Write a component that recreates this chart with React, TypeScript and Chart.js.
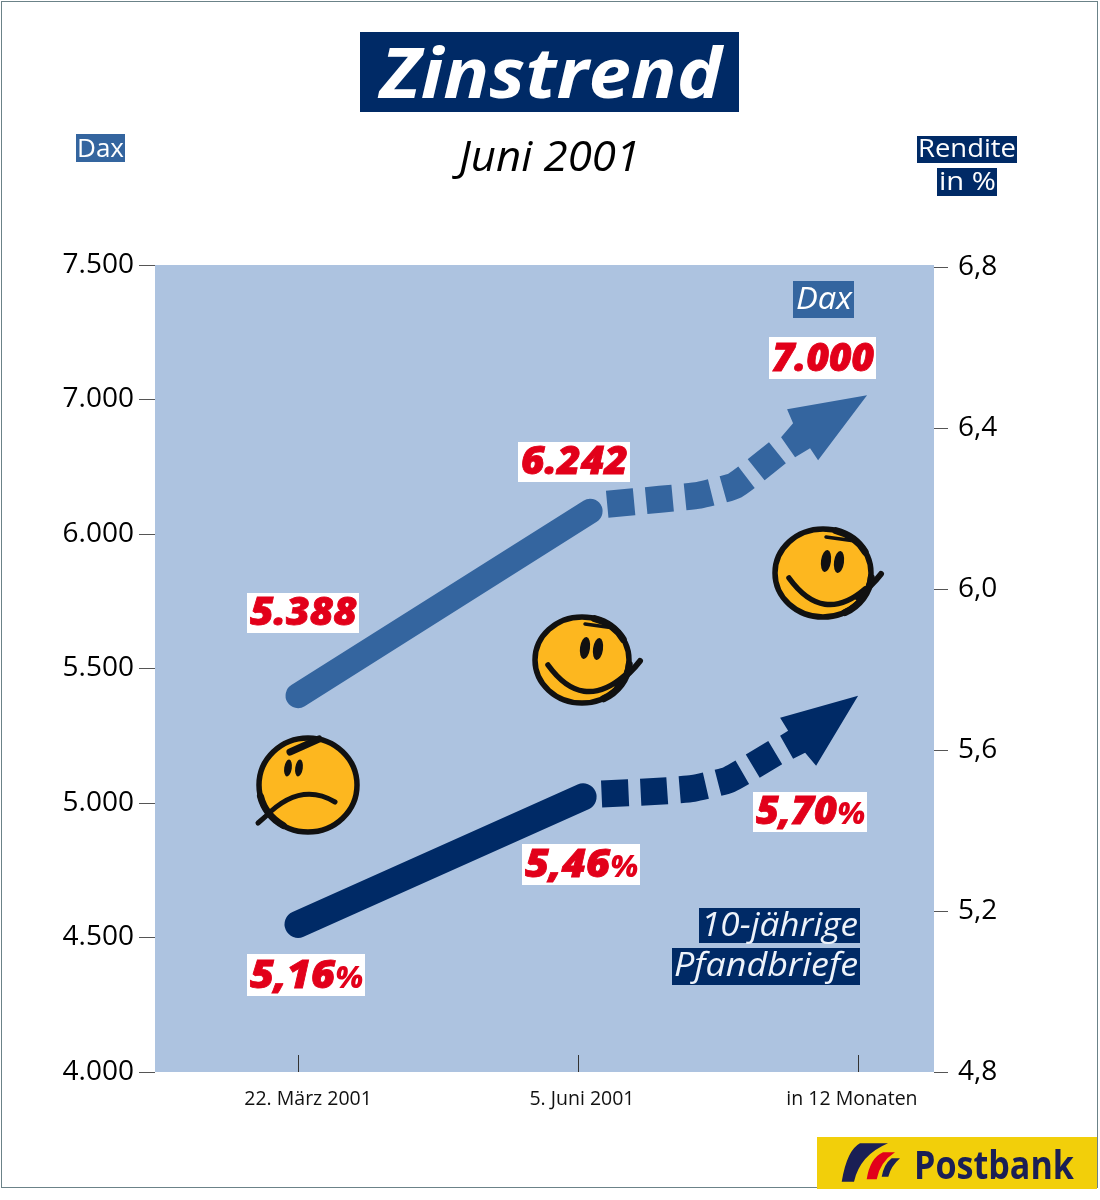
import React, { useEffect, useRef } from "react";
import { Chart, registerables } from "chart.js";

Chart.register(...registerables);

// ---- data ----
const categories = ["22. März 2001", "5. Juni 2001", "in 12 Monaten"];
const daxAxisTicks = [4000, 4500, 5000, 5500, 6000, 7000, 7500];
const daxAxisLabels = ["4.000", "4.500", "5.000", "5.500", "6.000", "7.000", "7.500"];
const renditeAxisTicks = [4.8, 5.2, 5.6, 6.0, 6.4, 6.8];
const renditeAxisLabels = ["4,8", "5,2", "5,6", "6,0", "6,4", "6,8"];

const daxSolidX = [0, 1.043];
const daxSolidY = [5399, 6169];
const daxDashX = [1.104, 1.293, 1.432, 1.561, 1.714];
const daxDashY = [6221, 6258, 6288, 6362, 6608];
const daxTip = { x: 2.032, y: 7016 };

const renditeSolidX = [0, 1.018];
const renditeSolidY = [5.167, 5.484];
const renditeDashX = [1.084, 1.271, 1.411, 1.539, 1.704];
const renditeDashY = [5.491, 5.497, 5.505, 5.527, 5.594];
const renditeTip = { x: 2, y: 5.735 };

const daxValueLabels = ["5.388", "6.242", "7.000"];
const renditeValueLabels = ["5,16", "5,46", "5,70"];

// ---- helpers ----
const NAVY = "#002a66";
const BLUE = "#34659f";
const PLOT = "#adc3e0";
const RED = "#e2001a";
const SMILE = "#fdb71f";

// position of a Dax value on the uneven, equally spaced left axis
function daxPos(v: number): number {
  for (let i = 0; i < daxAxisTicks.length - 1; i++) {
    const a = daxAxisTicks[i];
    const b = daxAxisTicks[i + 1];
    if (v <= b) return i + (v - a) / (b - a);
  }
  return daxAxisTicks.length - 1;
}
const zip = (xs: number[], ys: number[]) => xs.map((x, i) => ({ x, y: ys[i] }));

function box(ctx: any, x0: number, y0: number, x1: number, y1: number, fill: string) {
  ctx.fillStyle = fill;
  ctx.fillRect(x0, y0, x1 - x0, y1 - y0);
}
// text set to an exact width by a slight horizontal stretch
function label(ctx: any, t: string, x: number, y: number, font: string, color: string, width: number, outline = 0) {
  ctx.save();
  ctx.font = font;
  ctx.fillStyle = color;
  ctx.strokeStyle = color;
  ctx.lineWidth = outline;
  ctx.textAlign = "left";
  ctx.textBaseline = "alphabetic";
  const w = ctx.measureText(t).width;
  ctx.translate(x, y);
  ctx.scale(width / w, 1);
  ctx.fillText(t, 0, 0);
  if (outline) ctx.strokeText(t, 0, 0);
  ctx.restore();
}
function redLabel(ctx: any, t: string, pct: boolean, x0: number, y0: number, x1: number, y1: number) {
  box(ctx, x0, y0, x1, y1, "#ffffff");
  const base = y1 - 8;
  const font = "italic 800 38px 'Open Sans'";
  if (pct) {
    label(ctx, t, x0 + 3, base, font, RED, x1 - x0 - 33, 0.8);
    label(ctx, "%", x1 - 30, base, "italic 800 30px 'Open Sans'", RED, 28);
  } else {
    label(ctx, t, x0 + 3, base, font, RED, x1 - x0 - 5, 0.8);
  }
}
function poly(ctx: any, tipX: number, tipY: number, off: number[][], fill: string) {
  ctx.fillStyle = fill;
  ctx.beginPath();
  ctx.moveTo(tipX, tipY);
  off.forEach(([dx, dy]) => ctx.lineTo(tipX + dx, tipY + dy));
  ctx.closePath();
  ctx.fill();
}
function eye(ctx: any, x: number, y: number, rx: number, ry: number) {
  ctx.fillStyle = "#111";
  ctx.beginPath();
  ctx.ellipse(x, y, rx, ry, 0.14, 0, Math.PI * 2);
  ctx.fill();
}
function stroke(ctx: any, w: number, draw: () => void) {
  ctx.strokeStyle = "#111";
  ctx.lineWidth = w;
  ctx.lineCap = "round";
  ctx.beginPath();
  draw();
  ctx.stroke();
}
function face(ctx: any, cx: number, cy: number, rx: number, ry: number, happy: boolean) {
  ctx.fillStyle = SMILE;
  ctx.beginPath();
  ctx.ellipse(cx, cy, rx - 3, ry - 3, 0, 0, Math.PI * 2);
  ctx.fill();
  stroke(ctx, 5.5, () => ctx.ellipse(cx, cy, rx - 3, ry - 3, 0, 0, Math.PI * 2));
  if (happy) {
    eye(ctx, cx + 3, cy - 12, 5, 11);
    eye(ctx, cx + 16, cy - 11, 5, 11);
    stroke(ctx, 5.5, () => {
      ctx.moveTo(cx - 34, cy + 5);
      ctx.quadraticCurveTo(cx, cy + 52, cx + 42, cy + 16);
    });
    stroke(ctx, 6, () => {
      ctx.moveTo(cx + 34, cy + 24);
      ctx.quadraticCurveTo(cx + 48, cy + 14, cx + 58, cy + 1);
    });
    stroke(ctx, 7, () => ctx.ellipse(cx, cy, rx - 2.5, ry - 2.5, 0, 0.1, 1.1));
    stroke(ctx, 7, () => ctx.ellipse(cx, cy, rx - 3, ry - 3, 0, -1.3, -0.5));
    stroke(ctx, 3.5, () => {
      ctx.moveTo(cx + 3, cy - 36);
      ctx.lineTo(cx + 32, cy - 32);
    });
  } else {
    eye(ctx, cx - 20, cy - 17, 3.8, 8.5);
    eye(ctx, cx - 9, cy - 17, 3.8, 8.5);
    stroke(ctx, 5, () => {
      ctx.moveTo(cx - 50, cy + 38);
      ctx.lineTo(cx - 43, cy + 32);
      ctx.quadraticCurveTo(cx - 8, cy - 4, cx + 27, cy + 17);
    });
    stroke(ctx, 7, () => {
      ctx.moveTo(cx - 18, cy - 33);
      ctx.lineTo(cx + 11, cy - 46);
    });
    stroke(ctx, 7, () => ctx.ellipse(cx, cy, rx - 3, ry - 3, 0, 2.1, 2.9));
  }
}
function logo(ctx: any) {
  box(ctx, 817, 1137, 1097, 1189, "#f2cf0a");
  ctx.fillStyle = "#1a1f55";
  ctx.beginPath();
  ctx.moveTo(841.7, 1181.7);
  ctx.quadraticCurveTo(847, 1150, 860, 1143.3);
  ctx.lineTo(888, 1143.3);
  ctx.quadraticCurveTo(860, 1155, 854, 1181.7);
  ctx.closePath();
  ctx.fill();
  ctx.fillStyle = "#e2001a";
  ctx.beginPath();
  ctx.moveTo(866.7, 1179.3);
  ctx.quadraticCurveTo(870, 1158, 883, 1152.3);
  ctx.lineTo(895, 1152.3);
  ctx.quadraticCurveTo(880, 1162, 876.7, 1179.3);
  ctx.closePath();
  ctx.fill();
  ctx.fillStyle = "#1a1f55";
  ctx.beginPath();
  ctx.moveTo(881.7, 1176.7);
  ctx.quadraticCurveTo(884, 1164, 891.7, 1158.3);
  ctx.lineTo(900, 1158.3);
  ctx.quadraticCurveTo(891, 1166, 888.3, 1176.7);
  ctx.closePath();
  ctx.fill();
  label(ctx, "Postbank", 914, 1179, "bold 39px 'Open Sans'", "#1a1f55", 160);
}

const decorations = {
  id: "decorations",
  beforeDraw(chart: any) {
    const { ctx, chartArea: a } = chart;
    ctx.save();
    box(ctx, 0, 0, 1100, 1200, "#ffffff");
    box(ctx, a.left, a.top, a.right, a.bottom, PLOT);
    ctx.strokeStyle = "#6b8288";
    ctx.lineWidth = 1;
    ctx.strokeRect(1.5, 1.5, 1096, 1186);
    ctx.restore();
  },
  afterDatasetsDraw(chart: any) {
    const { ctx, scales } = chart;
    ctx.save();
    // arrow heads, anchored at their tips through the scales
    poly(
      ctx,
      scales.x.getPixelForValue(daxTip.x),
      scales.y.getPixelForValue(daxPos(daxTip.y)),
      [[-80, 14], [-74, 28], [-86, 42], [-72, 62], [-57, 53], [-49, 65]],
      BLUE
    );
    poly(
      ctx,
      scales.x.getPixelForValue(renditeTip.x),
      scales.y1.getPixelForValue(renditeTip.y),
      [[-78, 22], [-70, 35], [-78, 40], [-65, 63], [-53, 57], [-42, 70]],
      NAVY
    );

    // faces
    face(ctx, 308, 785, 52, 50, false);
    face(ctx, 582, 660, 50, 46, true);
    face(ctx, 823, 573, 51, 47, true);

    // value labels
    redLabel(ctx, daxValueLabels[0], false, 247, 593, 359, 633);
    redLabel(ctx, daxValueLabels[1], false, 518, 442, 630, 482);
    redLabel(ctx, daxValueLabels[2], false, 769, 337, 876, 379);
    redLabel(ctx, renditeValueLabels[0], true, 247, 954, 365, 996);
    redLabel(ctx, renditeValueLabels[1], true, 522, 844, 640, 885);
    redLabel(ctx, renditeValueLabels[2], true, 753, 792, 867, 832);

    // header
    box(ctx, 360, 32, 739, 112, NAVY);
    label(ctx, "Zinstrend", 380, 98, "italic bold 70px 'Open Sans'", "#ffffff", 342);
    label(ctx, "Juni 2001", 459, 171, "italic 42px 'Open Sans'", "#000000", 181);

    box(ctx, 76, 134, 125, 162, BLUE);
    label(ctx, "Dax", 77, 157, "25px 'Open Sans'", "#ffffff", 47);
    box(ctx, 917, 136, 1017, 163, NAVY);
    label(ctx, "Rendite", 918, 157, "25px 'Open Sans'", "#ffffff", 98);
    box(ctx, 937, 168, 997, 196, NAVY);
    label(ctx, "in %", 939, 190, "25px 'Open Sans'", "#ffffff", 57);

    // series names inside the plot
    box(ctx, 793, 281, 854, 318, BLUE);
    label(ctx, "Dax", 796, 309, "italic 31px 'Open Sans'", "#ffffff", 56);
    box(ctx, 699, 908, 860, 943, NAVY);
    label(ctx, "10-jährige", 701, 936, "italic 32px 'Open Sans'", "#eef3fa", 157);
    box(ctx, 672, 948, 860, 985, NAVY);
    label(ctx, "Pfandbriefe", 674, 976, "italic 32px 'Open Sans'", "#eef3fa", 184);

    logo(ctx);
    ctx.restore();
  },
};

const xLabelCentres = [0.036, 1.014, 1.978];

export default function App() {
  const ref = useRef<HTMLCanvasElement>(null);
  useEffect(() => {
    document.body.style.margin = "0";
    const chart = new Chart(ref.current as any, {
      type: "line",
      data: {
        datasets: [
          {
            label: "Dax",
            data: zip(daxSolidX, daxSolidY.map(daxPos)),
            yAxisID: "y",
            borderColor: BLUE,
            borderWidth: 25,
            borderCapStyle: "round",
            pointRadius: 0,
          },
          {
            label: "Dax Prognose",
            data: zip(daxDashX, daxDashY.map(daxPos)),
            yAxisID: "y",
            borderColor: BLUE,
            borderWidth: 27,
            borderDash: [27, 12],
            borderCapStyle: "butt",
            tension: 0.15,
            pointRadius: 0,
          },
          {
            label: "10-jährige Pfandbriefe",
            data: zip(renditeSolidX, renditeSolidY),
            yAxisID: "y1",
            borderColor: NAVY,
            borderWidth: 27,
            borderCapStyle: "round",
            pointRadius: 0,
          },
          {
            label: "10-jährige Pfandbriefe Prognose",
            data: zip(renditeDashX, renditeDashY),
            yAxisID: "y1",
            borderColor: NAVY,
            borderWidth: 27,
            borderDash: [27, 12],
            borderCapStyle: "butt",
            tension: 0.15,
            pointRadius: 0,
          },
        ],
      },
      options: {
        responsive: false,
        animation: false,
        events: [],
        layout: { padding: { top: 265, left: 0, right: 0, bottom: 0 } },
        plugins: { legend: { display: false }, tooltip: { enabled: false }, title: { display: false } },
        scales: {
          x: {
            type: "linear",
            position: "bottom",
            min: -0.5107,
            max: 2.271,
            afterBuildTicks: (s: any) => {
              s.ticks = categories.map((_, i) => ({ value: i }));
            },
            afterFit: (s: any) => {
              s.height = 0;
            },
            grid: { drawOnChartArea: false, tickLength: -17, tickColor: "#333", tickWidth: 1 },
            border: { display: false },
            ticks: { display: false },
          },
          xLabels: {
            type: "linear",
            position: "bottom",
            weight: 1,
            min: -0.5107,
            max: 2.271,
            afterBuildTicks: (s: any) => {
              s.ticks = xLabelCentres.map((value) => ({ value }));
            },
            afterFit: (s: any) => {
              s.height = 128;
            },
            grid: { display: false },
            border: { display: false },
            ticks: {
              autoSkip: false,
              maxRotation: 0,
              padding: 8,
              color: "#111",
              font: { family: "'Open Sans'", size: 19.5 },
              callback: (_v: any, i: number) => categories[i],
            },
          },
          y: {
            type: "linear",
            position: "left",
            min: 0,
            max: daxAxisTicks.length - 1,
            afterFit: (s: any) => {
              s.width = 155;
            },
            grid: { drawOnChartArea: false, tickLength: 16, tickColor: "#555", tickWidth: 1 },
            border: { display: false },
            ticks: {
              stepSize: 1,
              padding: 5,
              color: "#000",
              font: { family: "'Open Sans'", size: 28 },
              callback: (v: any) => daxAxisLabels[v],
            },
          },
          y1: {
            type: "linear",
            position: "right",
            min: 4.8,
            max: 6.806,
            afterBuildTicks: (s: any) => {
              s.ticks = renditeAxisTicks.map((value) => ({ value }));
            },
            afterFit: (s: any) => {
              s.width = 166;
            },
            grid: { drawOnChartArea: false, tickLength: 14, tickColor: "#555", tickWidth: 1 },
            border: { display: false },
            ticks: {
              padding: 10,
              color: "#000",
              font: { family: "'Open Sans'", size: 28 },
              callback: (_v: any, i: number) => renditeAxisLabels[i],
            },
          },
        },
      },
      plugins: [decorations],
    } as any);
    return () => chart.destroy();
  }, []);
  return <canvas ref={ref} width={1100} height={1200} style={{ display: "block" }} />;
}
